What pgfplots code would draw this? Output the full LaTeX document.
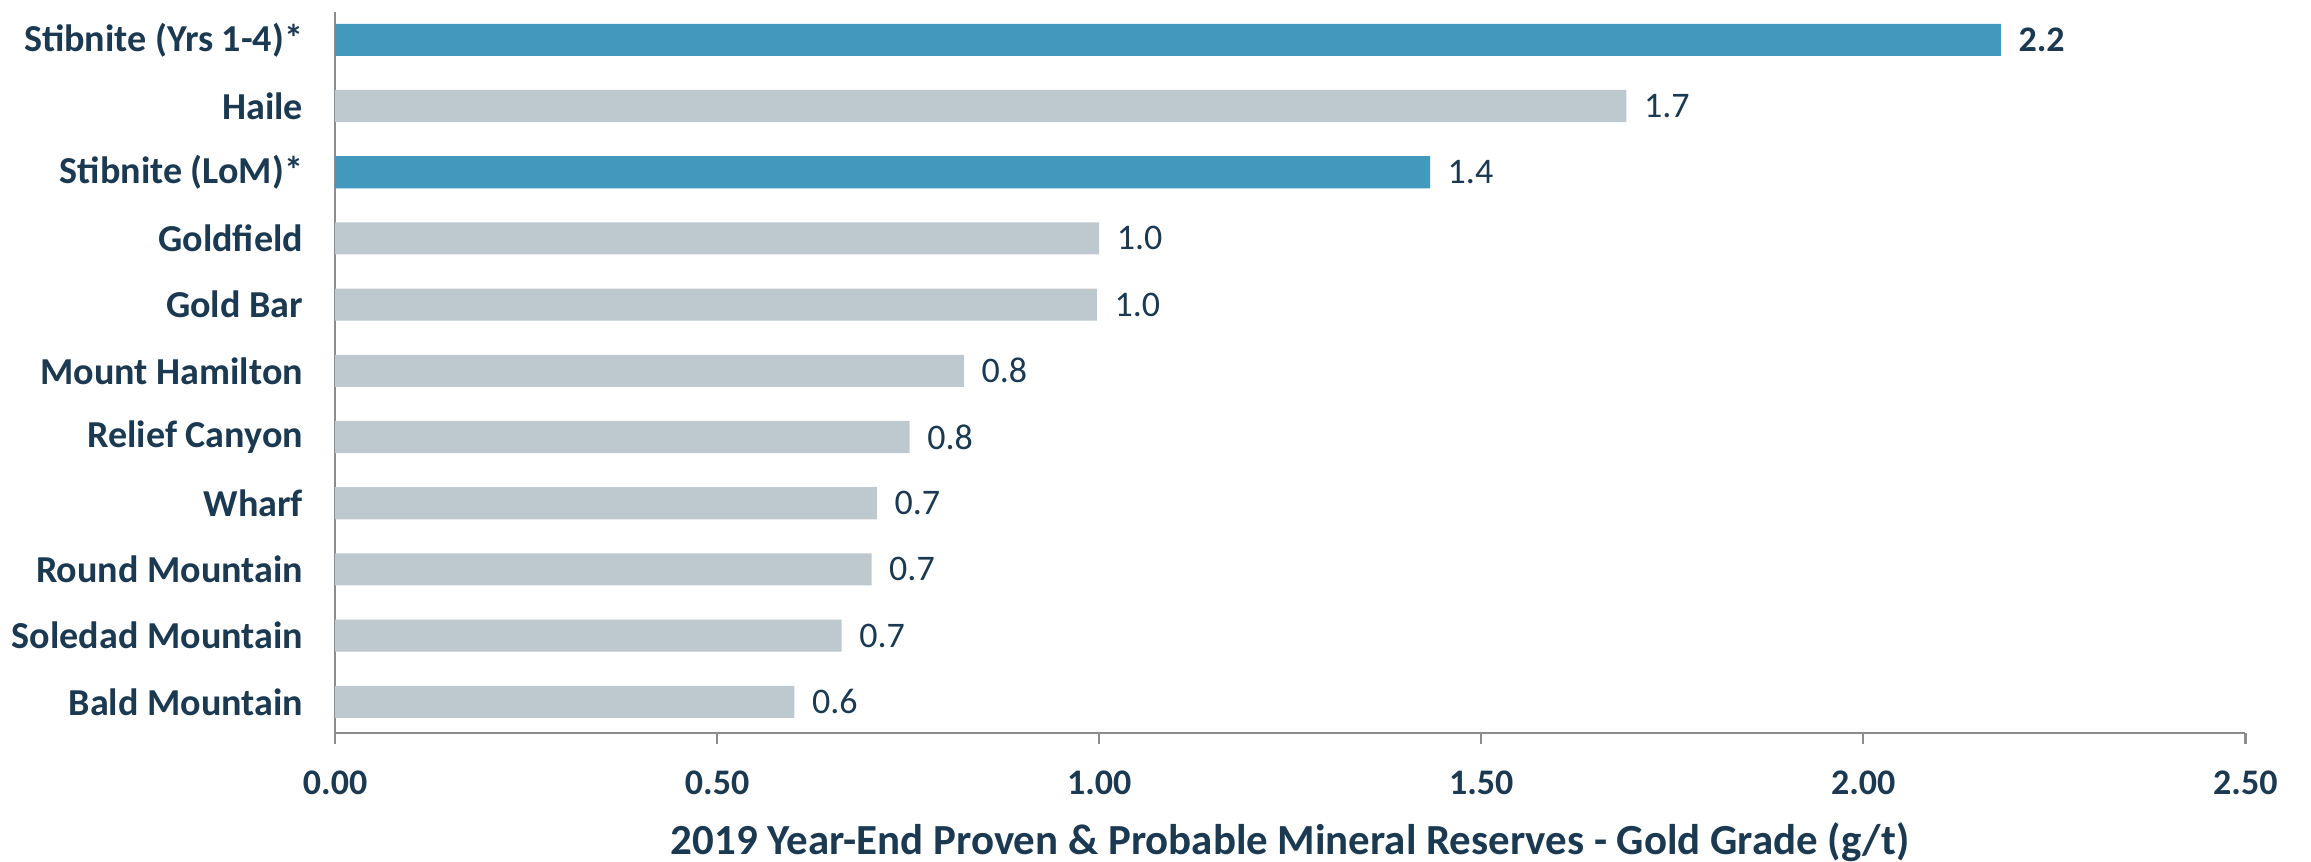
\documentclass[border=0pt]{standalone}
\usepackage{fontspec}
\setmainfont{Carlito}
\usepackage{pgfplots}
\pgfplotsset{compat=1.18}
\definecolor{barblue}{HTML}{4298BD}
\definecolor{bargray}{HTML}{BDC9CF}
\definecolor{navy}{HTML}{1B3A52}
\definecolor{axgray}{HTML}{8C8C8C}
\begin{document}
\fontsize{12pt}{14pt}\selectfont
\begin{tikzpicture}
\begin{axis}[
  xbar, bar width=10.7pt, bar shift=0pt,
  scale only axis, width=636.7pt, height=240.3pt,
  xmin=0, xmax=2.5, ymin=-0.47, ymax=10.42,
  axis lines*=left,
  axis line style={axgray, line width=0.8pt},
  xtick={0,0.5,1,1.5,2,2.5},
  x tick style={axgray, line width=0.8pt},
  y tick style={draw=none},
  tick align=outside, major tick length=3.7pt,
  xticklabel={\pgfmathprintnumber[fixed,fixed zerofill,precision=2]{\tick}},
  /pgf/number format/assume math mode=true,
  ytick={0,...,10},
  yticklabels={Bald Mountain,Soledad Mountain,Round Mountain,Wharf,Relief Canyon,Mount Hamilton,Gold Bar,Goldfield,Stibnite (LoM)*,Haile,Stibnite (Yrs 1-4)*},
  ticklabel style={font=\bfseries, text=navy},
  xticklabel style={yshift=-4.6pt},
  yticklabel style={font=\fontsize{12.7pt}{14pt}\selectfont\bfseries, xshift=-2.8pt},
  xlabel={2019 Year-End Proven \& Probable Mineral Reserves - Gold Grade (g/t)},
  xlabel style={font=\fontsize{14.3pt}{16pt}\selectfont\bfseries, text=navy, at={(axis description cs:0.5,0)}, anchor=center, yshift=-36.3pt},
  point meta=explicit symbolic,
  nodes near coords,
  nodes near coords style={text=navy, anchor=west, xshift=1.7pt},
  clip=false,
]
\addplot[fill=bargray, draw=none] coordinates {
  (1.69,9) [1.7]
  (1.00,7) [1.0]
  (0.997,6) [1.0]
  (0.823,5) [0.8]
  (0.752,4) [0.8]
  (0.709,3) [0.7]
  (0.702,2) [0.7]
  (0.663,1) [0.7]
  (0.601,0) [0.6]
};
\addplot[fill=barblue, draw=none] coordinates {
  (2.18,10) [\textbf{2.2}]
  (1.433,8) [1.4]
};
\end{axis}
\pgfresetboundingbox
\path (current axis.south west) ++(-111.7pt,-42.7pt) rectangle ++(770.3pt,287pt);
\end{tikzpicture}
\end{document}
